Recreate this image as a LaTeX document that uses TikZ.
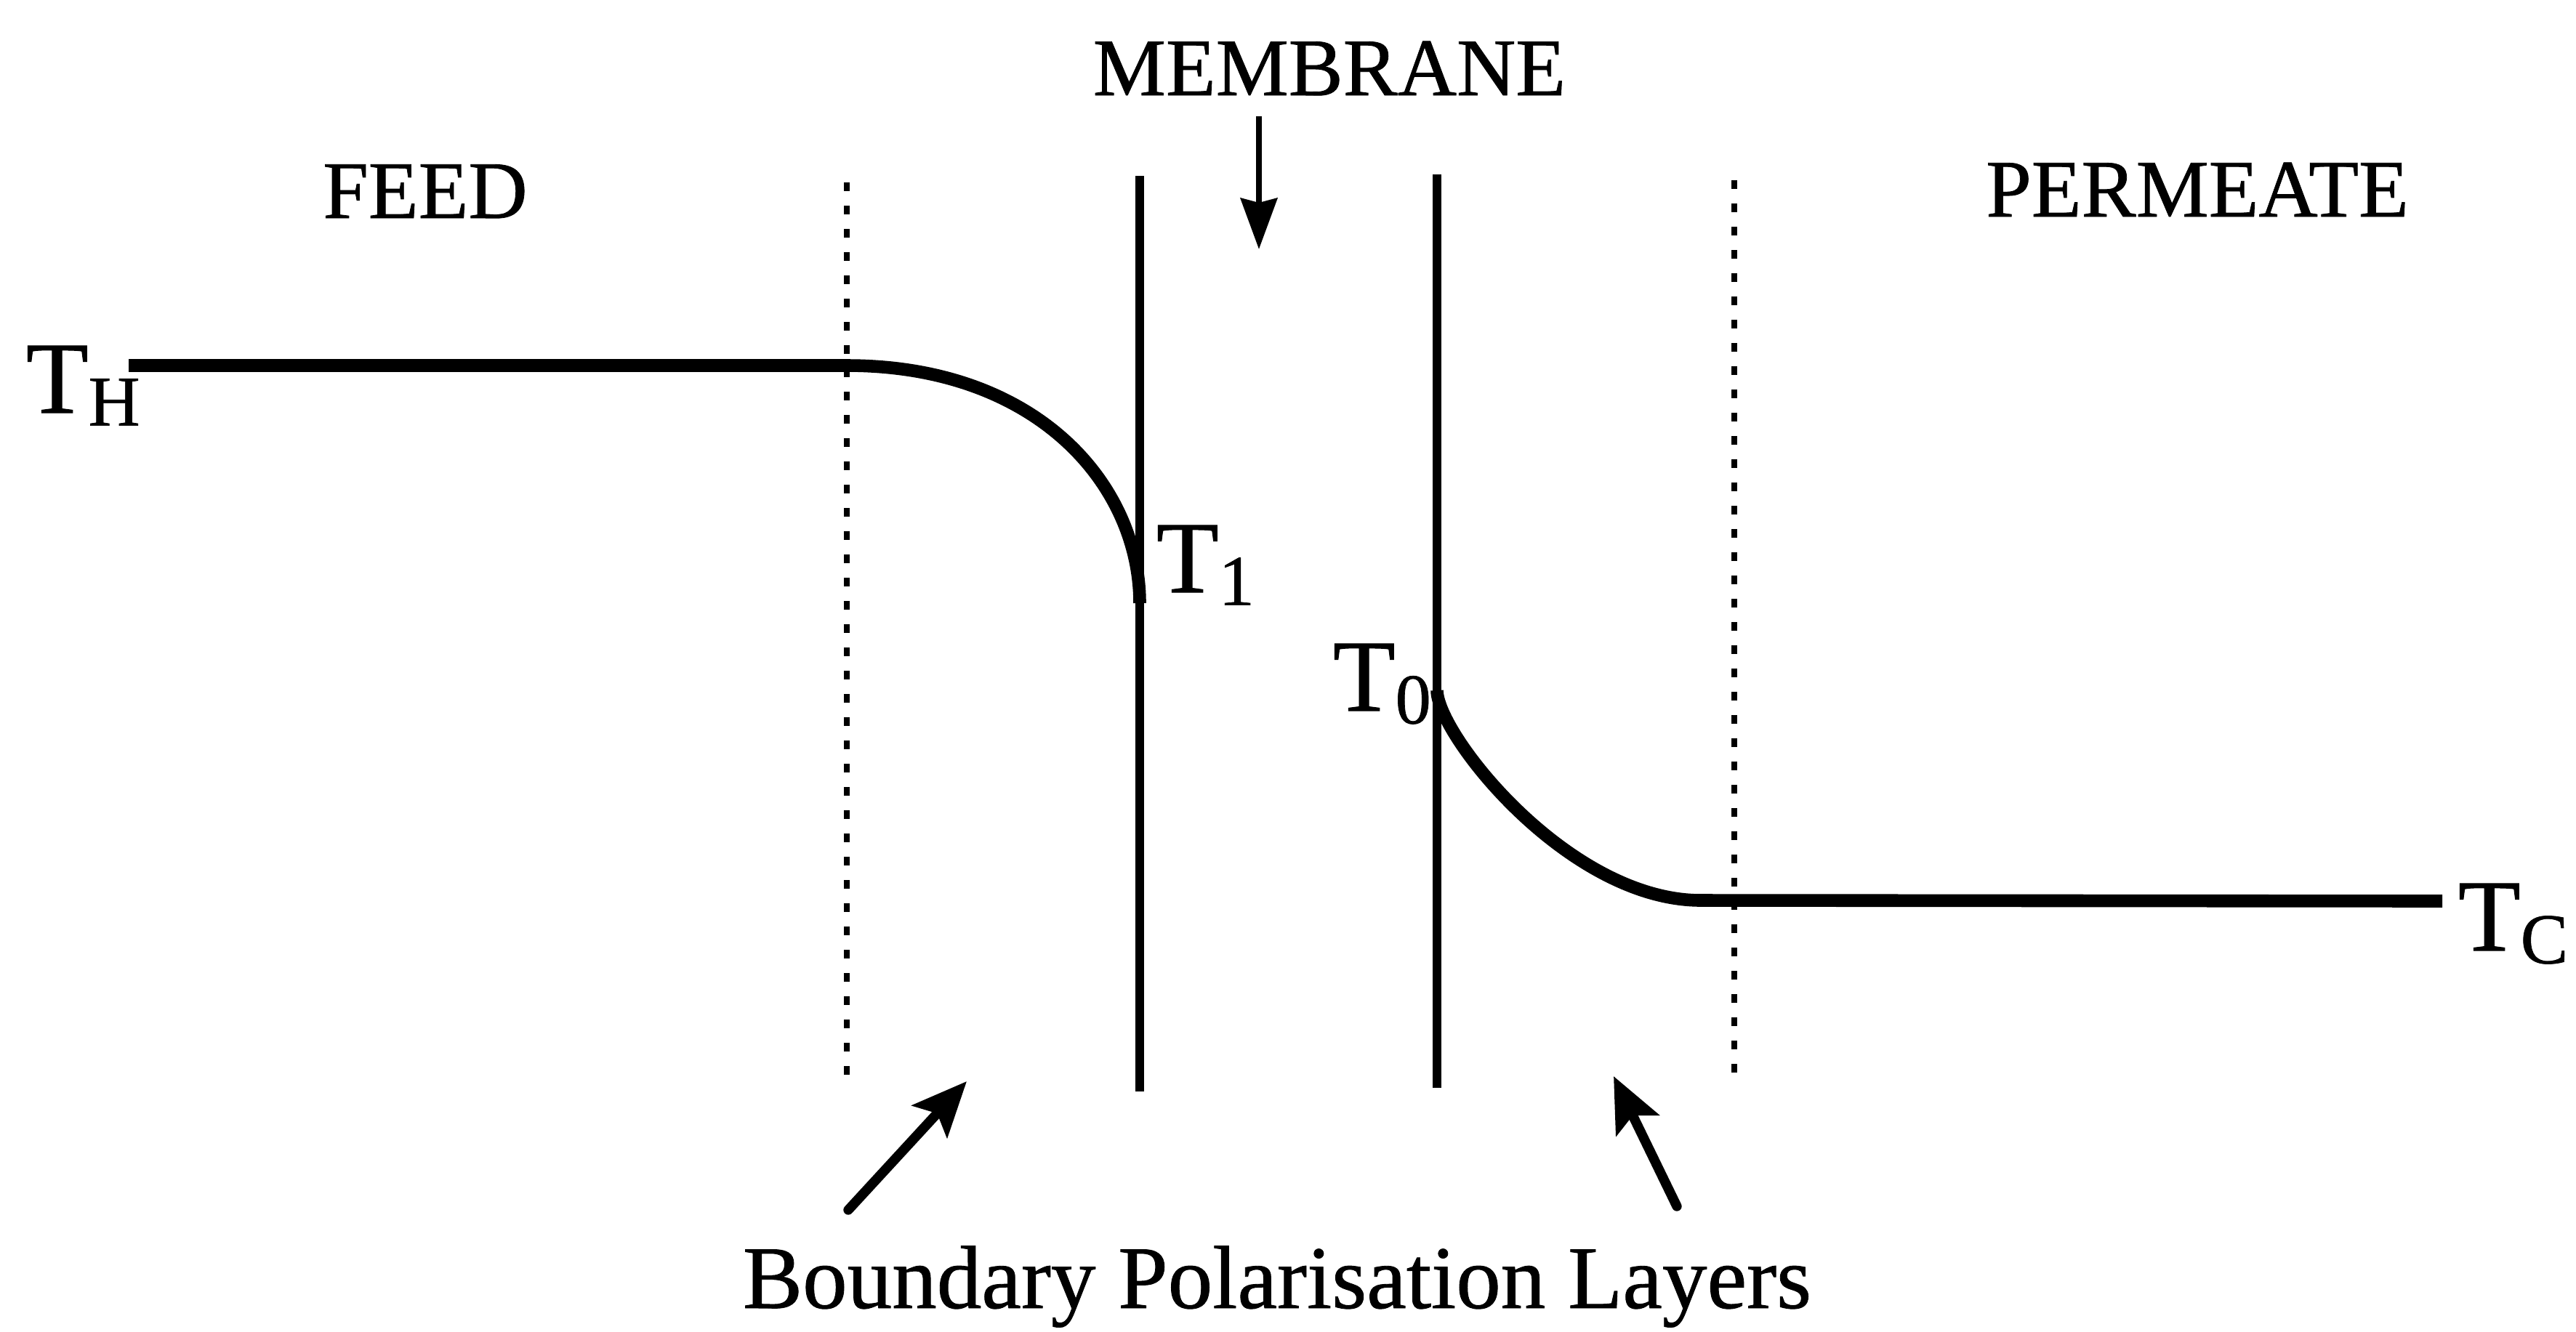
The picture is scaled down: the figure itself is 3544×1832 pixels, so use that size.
\documentclass[tikz,border=0pt]{standalone}
\usepackage{fontspec}
\setmainfont{Liberation Serif}[FakeBold=0.7]
\usetikzlibrary{arrows.meta}
\tikzset{wall/.style={line width=3.5pt},
  layer/.style={line width=2.5pt,dash pattern=on 3.4pt off 5.7pt},
  profile/.style={line width=5pt},
  arrow/.style={-{Stealth[length=7mm,width=5mm,inset=0.6mm]},line width=2.5pt},
  pointer/.style={-{Stealth[length=7.5mm,width=6.5mm,inset=1.5mm]},line width=3.8pt,line cap=round},
  lab/.style={inner sep=0pt,anchor=base,font=\fontsize{32pt}{32pt}\selectfont},
  tlab/.style={inner sep=0pt,anchor=base west,font=\fontsize{40pt}{40pt}\selectfont}}
\newcommand{\tsub}[1]{T\raisebox{-5pt}{\fontsize{28pt}{28pt}\selectfont #1}}

\begin{document}
\begin{tikzpicture}[x=0.01cm,y=-0.01cm]
\useasboundingbox (0,0) rectangle (3544,1832);
% region labels
\node[lab] (feed) at (585,300) {FEED};
\node[lab] (perm) at (3023,298) {PERMEATE};
\node[lab] (memb) at (1829,131) {MEMBRANE};
\node[lab,font=\fontsize{35pt}{35pt}\selectfont] (bpl) at (1757,1800) {Boundary Polarisation Layers};
% temperature labels
\node[tlab] (th) at (35,568) {\tsub{H}};
\node[tlab] (t1) at (1590,815) {\tsub{1}};
\node[tlab] (t0) at (1833,978) {\tsub{0}};
\node[tlab] (tc) at (3381,1308) {\tsub{C}};
% membrane walls and boundary layers
\coordinate (wl1) at (1568,242); \coordinate (wl2) at (1568,1502);
\coordinate (wr1) at (1977,240); \coordinate (wr2) at (1977,1497);
\coordinate (dl1) at (1165,251); \coordinate (dl2) at (1165,1497);
\coordinate (dr1) at (2386,248); \coordinate (dr2) at (2386,1480);
\draw[wall] (wl1)--(wl2);
\draw[wall] (wr1)--(wr2);
\draw[layer] (dl1)--(dl2);
\draw[layer] (dr1)--(dr2);
% temperature profile
\coordinate (hot) at (177,503); \coordinate (blh) at (1165,503);
\coordinate (s1) at (1568,830);
\coordinate (s0) at (1977,950); \coordinate (blc) at (2340,1239);
\coordinate (cold) at (3360,1240);
\draw[profile] (hot)--(blh) .. controls (1430,503) and (1568,670) .. (s1);
\draw[profile] (s0) .. controls (1977,1010) and (2157,1239) .. (blc)--(cold);
% pointers
\coordinate (ma1) at (1732,160); \coordinate (ma2) at (1732,343);
\coordinate (la1) at (1167,1665); \coordinate (la2) at (1330,1488);
\coordinate (ra1) at (2307,1660); \coordinate (ra2) at (2220,1481);
\draw[arrow] (ma1)--(ma2);
\draw[pointer] (la1)--(la2);
\draw[pointer] (ra1)--(ra2);
\end{tikzpicture}
\end{document}
